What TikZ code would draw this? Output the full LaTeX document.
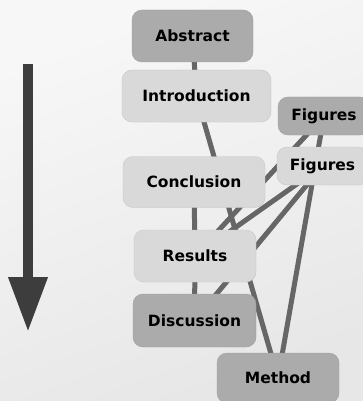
\documentclass[tikz,border=0pt]{standalone}
\usepackage{fontspec}
\setmainfont{DejaVu Sans}
\usetikzlibrary{arrows.meta}

\definecolor{boxdark}{HTML}{ABABAB}
\definecolor{boxlight}{HTML}{D9D9D9}
\definecolor{rimdark}{HTML}{9E9E9E}
\definecolor{rimlight}{HTML}{C6C6C6}
\definecolor{linkgray}{HTML}{666666}
\definecolor{flowgray}{HTML}{3D3D3D}

\pgfdeclarelayer{canvas}
\pgfdeclarelayer{links}
\pgfsetlayers{canvas,links,main}

\begin{document}
\begin{tikzpicture}[
    x=1pt, y=-1pt,
    font=\fontsize{15.5}{18}\selectfont\bfseries,
    section/.style={rectangle, rounded corners=10pt, draw=rimlight, fill=boxlight, text centered, minimum height=52pt, inner sep=0pt},
    keysection/.style={section, draw=rimdark, fill=boxdark},
    figbox/.style={section, minimum height=38pt, minimum width=92pt},
    link/.style={line width=5pt, draw=linkgray},
    flow/.style={line width=10pt, draw=flowgray, -{Triangle[width=37pt, length=55pt]}}
]
\useasboundingbox (0,0) rectangle (363,401);

% --- Background ---
\begin{pgfonlayer}{canvas}
\shade [top color=gray!6, bottom color=gray!19, shading angle=20] (0,0) rectangle (363,401);
\end{pgfonlayer}

% --- Nodes ---
% Main column (paper order)
\node (abstract) at (192.5, 36) [keysection, minimum width=121pt] {Abstract};
\node (intro) at (196.5, 96) [section, minimum width=149pt] {Introduction};
\node (concl) at (194, 182) [section, minimum width=142pt, minimum height=51pt] {Conclusion};
\node (results) at (195, 256) [section, minimum width=122pt] {Results};
\node (discuss) at (194.5, 320.5) [keysection, minimum width=123pt, minimum height=53pt] {Discussion};
\node (method) at (278, 378) [keysection, minimum width=122pt, minimum height=50pt] {Method};

% Right side (figures)
\node (figtop) at (324, 116) [figbox, draw=rimdark, fill=boxdark] {Figures};
\node (figlow) at (322.5, 166) [figbox, minimum width=91pt] {Figures};

% Reading direction
\coordinate (flowstart) at (28, 64);
\coordinate (flowend) at (28, 332);

% --- Edges ---
\begin{pgfonlayer}{links}
\draw [link] (abstract.center) -- (intro.center);
\draw [link] (intro.center) -- (method.center);
\draw [link] (concl.center) -- (results.center);
\draw [link] (results.center) -- (discuss.center);

\draw [link] (figtop.center) -- (results.center);
\draw [link] (figtop.center) -- (method.center);
\draw [link] (figlow.center) -- (results.center);
\draw [link] (figlow.center) -- (discuss.center);
\end{pgfonlayer}

\draw [flow] (flowstart) -- (flowend);

\end{tikzpicture}
\end{document}
